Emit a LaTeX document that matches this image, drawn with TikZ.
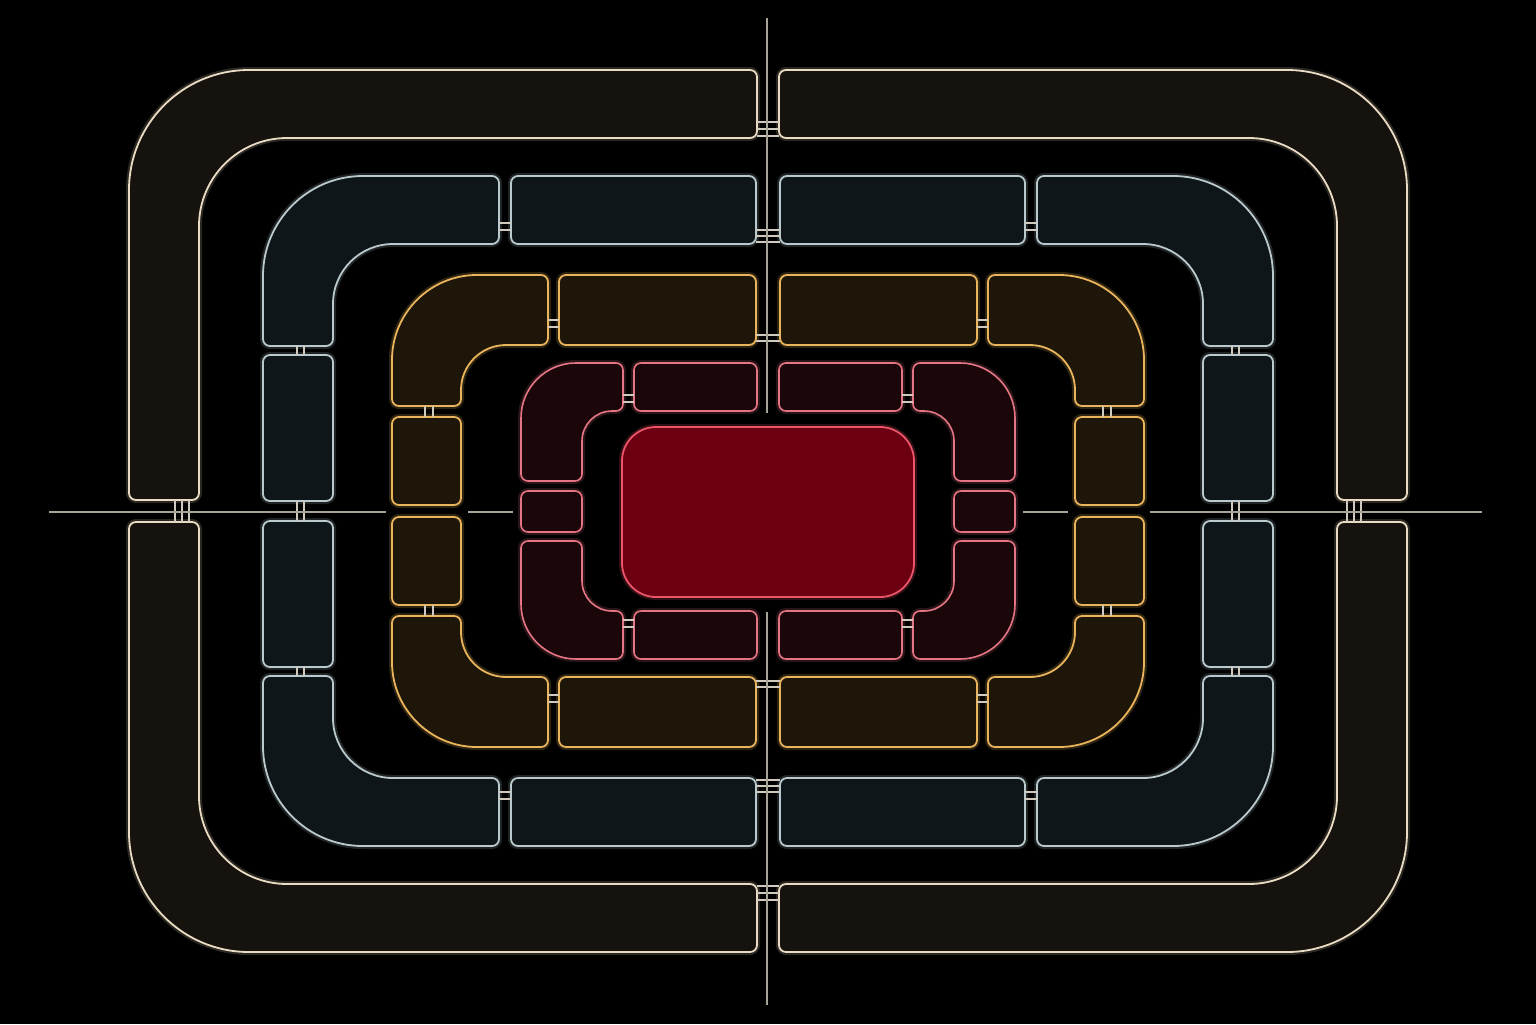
\documentclass[tikz,border=0pt]{standalone}
\usepackage{tikz}
\definecolor{outerline}{HTML}{E9DCC3}
\definecolor{outerfill}{HTML}{16130F}
\definecolor{blueline}{HTML}{B9C9CD}
\definecolor{bluefill}{HTML}{0E1619}
\definecolor{goldline}{HTML}{E9B45C}
\definecolor{goldfill}{HTML}{1E1609}
\definecolor{redline}{HTML}{E57585}
\definecolor{redfill}{HTML}{1B0709}
\definecolor{coreline}{HTML}{EC5468}
\definecolor{corefill}{HTML}{6C0012}
\definecolor{barcol}{HTML}{CFCABD}
\definecolor{guidecol}{HTML}{A7A398}
\tikzstyle{outerseg}=[draw=outerline, fill=outerfill, line width=0.9pt, preaction={draw=outerline, line width=3pt, draw opacity=0.18}]
\tikzstyle{blueseg}=[draw=blueline, fill=bluefill, line width=0.9pt, preaction={draw=blueline, line width=3pt, draw opacity=0.18}]
\tikzstyle{goldseg}=[draw=goldline, fill=goldfill, line width=0.9pt, preaction={draw=goldline, line width=3pt, draw opacity=0.2}]
\tikzstyle{redseg}=[draw=redline, fill=redfill, line width=0.8pt, preaction={draw=redline, line width=3pt, draw opacity=0.18}]
\tikzstyle{coreblk}=[draw=coreline, fill=corefill, line width=0.9pt, preaction={draw=coreline, line width=3pt, draw opacity=0.2}]
\tikzstyle{tiebar}=[draw=barcol, line width=0.7pt]
\tikzstyle{guide}=[draw=guidecol, line width=1pt]
% L-shaped corner piece: style, outer x, outer y, inner x, inner y, arm end x, arm end y, outer radius, inner radius
\newcommand{\lpiece}[9]{%
  \path[#1] ({#2+#8},#3) .. controls ({#2+0.448*#8},#3) and (#2,{#3+0.448*#8}) .. (#2,{#3+#8})
    -- (#2,{#7-7}) .. controls (#2,{#7-3.1}) and ({#2+3.1},#7) .. ({#2+7},#7)
    -- ({#4-7},#7) .. controls ({#4-3.1},#7) and (#4,{#7-3.1}) .. (#4,{#7-7})
    -- (#4,{#5+#9}) .. controls (#4,{#5+0.448*#9}) and ({#4+0.448*#9},#5) .. ({#4+#9},#5)
    -- ({#6-7},#5) .. controls ({#6-3.1},#5) and (#6,{#5-3.1}) .. (#6,{#5-7})
    -- (#6,{#3+7}) .. controls (#6,{#3+3.1}) and ({#6-3.1},#3) .. ({#6-7},#3)
    -- cycle;}

\begin{document}
\begin{tikzpicture}[x=0.5pt,y=-0.5pt]
  \fill[black] (0,0) rectangle (1536,1024);
  \useasboundingbox (0,0) rectangle (1536,1024);

  \begin{scope}[shift={(768,511)}]
    \foreach \sx in {1,-1}{
      \foreach \sy in {1,-1}{
        \begin{scope}[xscale=\sx, yscale=\sy]
          % outer ring
          \lpiece{outerseg}{-639}{-441}{-569}{-373}{-11}{-11}{120}{88}
          \foreach \yy in {-389,-382,-375} \draw[tiebar] (-11,\yy) -- (0,\yy);
          \foreach \xx in {-593,-586,-579} \draw[tiebar] (\xx,-11) -- (\xx,0);
          % blue ring
          \lpiece{blueseg}{-505}{-335}{-435}{-267}{-269}{-165}{100}{60}
          \draw[blueseg, rounded corners=3.5pt] (-257,-335) rectangle (-12,-267);
          \draw[blueseg, rounded corners=3.5pt] (-505,-156) rectangle (-435,-10);
          \foreach \yy in {-288,-281} \draw[tiebar] (-269,\yy) -- (-257,\yy);
          \foreach \xx in {-471,-464} \draw[tiebar] (\xx,-165) -- (\xx,-156);
          \foreach \yy in {-281,-275,-269} \draw[tiebar] (-12,\yy) -- (0,\yy);
          \foreach \xx in {-471,-464} \draw[tiebar] (\xx,-10) -- (\xx,0);
          % gold ring
          \lpiece{goldseg}{-376}{-236}{-307}{-166}{-220}{-105}{85}{45}
          \draw[goldseg, rounded corners=3.5pt] (-209,-236) rectangle (-12,-166);
          \draw[goldseg, rounded corners=3.5pt] (-376,-94) rectangle (-307,-6);
          \foreach \yy in {-191,-184} \draw[tiebar] (-220,\yy) -- (-209,\yy);
          \foreach \xx in {-343,-335} \draw[tiebar] (\xx,-105) -- (\xx,-94);
          \foreach \yy in {-176,-170} \draw[tiebar] (-12,\yy) -- (0,\yy);
          % red ring
          \lpiece{redseg}{-247}{-148}{-186}{-100}{-145}{-30}{55}{30}
          \draw[redseg, rounded corners=3.5pt] (-134,-148) rectangle (-11,-100);
          \foreach \yy in {-116,-109} \draw[tiebar] (-145,\yy) -- (-134,\yy);
        \end{scope}
      }
    }
    \foreach \sx in {1,-1}
      \draw[redseg, rounded corners=3.5pt, xscale=\sx] (-247,-20) rectangle (-186,21);
    \draw[coreblk, rounded corners=17pt] (-146,-84) rectangle (146,86);
  \end{scope}

  % guide lines
  \draw[guide] (767,18) -- (767,413);
  \draw[guide] (767,612) -- (767,1005);
  \draw[guide] (49,512) -- (386,512);
  \draw[guide] (468,512) -- (513,512);
  \draw[guide] (1023,512) -- (1068,512);
  \draw[guide] (1150,512) -- (1482,512);
\end{tikzpicture}
\end{document}
